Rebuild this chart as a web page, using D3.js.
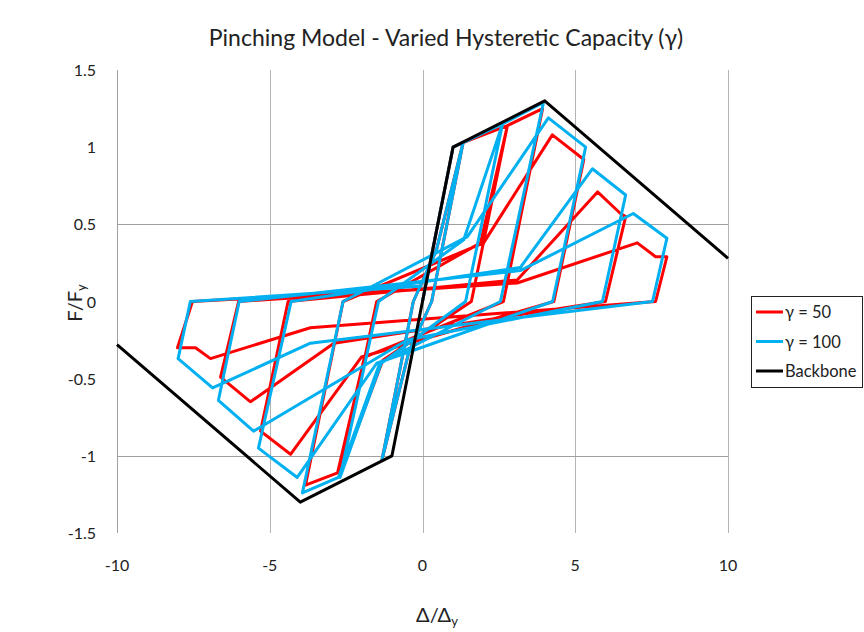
<!DOCTYPE html>
<html>
<head>
<meta charset="utf-8">
<script src="https://cdn.jsdelivr.net/npm/d3@7/dist/d3.min.js"></script>
<style>
body { margin: 0; background: #fff; }
text { font-family: Lato, "Open Sans", sans-serif; fill: #222; }
</style>
</head>
<body>
<svg width="864" height="632"></svg>
<script>
var xTicks = [-10, -5, 0, 5, 10];
var yTicks = [-1.5, -1, -0.5, 0, 0.5, 1, 1.5];
var xGrid = [-5, 0, 5, 10];
var yGrid = [0.5, -1];

var seriesNames = ["\u03b3 = 50", "\u03b3 = 100", "Backbone"];
var seriesColors = ["#ff0000", "#00b0f0", "#000000"];

var backboneDisp  = [-10, -4, -1, 1, 4, 10];
var backboneForce = [-0.28, -1.3, -1.0, 1.0, 1.3, 0.28];

// gamma = 50
var g50Disp  = [0, 1, 1.33, 0.3, -0.45, -1.33, -0.3, 0.45, 1.33, 2.78, 1.6,
                -1.3, -2.7, -1.5, 1.9, 2.78, 3.93, 2.65,
                -1.9, -2.78, -3.83, -2.6, 2.0, 4.25, 5.28, 4.3,
                -2.0, -4.32, -5.3, -4.4, 3.1, 5.73, 6.48, 6.65, 5.99,
                -2.9, -5.63, -6.61, -6.02, 3.1, 7.03, 7.63, 8.0, 7.63,
                -3.67, -6.94, -7.43, -8.02, -7.53, 0];
var g50Force = [0, 1, 1.03, 0, -0.33, -1.03, 0, 0.33, 1.03, 1.14, 0,
                -0.38, -1.12, 0, 0.38, 1.14, 1.25, 0,
                -0.36, -1.11, -1.19, 0, 0.38, 1.08, 0.92, 0,
                -0.36, -0.99, -0.84, 0, 0.14, 0.71, 0.57, 0.55, 0,
                -0.27, -0.65, -0.49, 0, 0.12, 0.38, 0.29, 0.29, 0,
                -0.17, -0.37, -0.30, -0.30, 0, 0.08];

// gamma = 100
var g100Disp  = [0, 1, 1.33, 0.3, -0.45, -1.33, -0.3, 0.45, 1.33, 2.62, 1.41,
                 -1.35, -2.7, -1.44, 1.35, 2.62, 3.96, 2.55,
                 -1.4, -2.75, -3.93, -2.6, 1.47, 4.12, 5.34, 4.26,
                 -1.5, -4.1, -5.37, -4.3, 3.2, 5.56, 6.65, 5.89,
                 -0.5, -5.53, -6.68, -6.0, 3.2, 6.9, 8.0, 7.53,
                 -3.67, -6.87, -8.0, -7.6, 0];
var g100Force = [0, 1, 1.03, 0, -0.33, -1.03, 0, 0.33, 1.03, 1.15, 0,
                 -0.40, -1.14, 0, 0.40, 1.15, 1.29, 0,
                 -0.40, -1.14, -1.24, 0, 0.42, 1.19, 1.0, 0,
                 -0.40, -1.14, -0.95, 0, 0.22, 0.86, 0.69, 0,
                 -0.25, -0.84, -0.64, 0, 0.2, 0.57, 0.41, 0,
                 -0.27, -0.56, -0.37, 0, 0.1];

var svg = d3.select("svg");
var x = d3.scaleLinear().domain([-10, 10]).range([117, 728]);
var y = d3.scaleLinear().domain([-1.5, 1.5]).range([533, 70]);

function pairs(xs, ys) {
    return xs.map(function(d, i) { return [d, ys[i]]; });
}

// gridlines
svg.selectAll(".vgrid")
    .data(xGrid)
    .enter().append("line")
    .attr("x1", function(d) { return Math.round(x(d)) + 0.5; })
    .attr("x2", function(d) { return Math.round(x(d)) + 0.5; })
    .attr("y1", y(1.5)).attr("y2", y(-1.5))
    .attr("stroke", "#b4b4b4");

svg.selectAll(".hgrid")
    .data(yGrid)
    .enter().append("line")
    .attr("x1", x(-10)).attr("x2", x(10))
    .attr("y1", function(d) { return Math.round(y(d)) + 0.5; })
    .attr("y2", function(d) { return Math.round(y(d)) + 0.5; })
    .attr("stroke", "#a0a0a0");

// y axis line
svg.append("line")
    .attr("x1", Math.round(x(-10)) + 0.5).attr("x2", Math.round(x(-10)) + 0.5)
    .attr("y1", y(1.5)).attr("y2", y(-1.5))
    .attr("stroke", "#a0a0a0");

svg.selectAll(".ylab")
    .data(yTicks)
    .enter().append("text")
    .attr("x", 96)
    .attr("y", function(d) { return y(d) + 6; })
    .attr("text-anchor", "end")
    .style("font-size", "16px")
    .text(function(d) { return d; });

svg.selectAll(".xlab")
    .data(xTicks)
    .enter().append("text")
    .attr("x", function(d) { return x(d); })
    .attr("y", 571)
    .attr("text-anchor", "middle")
    .style("font-size", "16px")
    .text(function(d) { return d; });

// series
var line = d3.line()
    .x(function(d) { return x(d[0]); })
    .y(function(d) { return y(d[1]); });

var allSeries = [pairs(g50Disp, g50Force), pairs(g100Disp, g100Force), pairs(backboneDisp, backboneForce)];

svg.selectAll(".series")
    .data(allSeries)
    .enter().append("path")
    .attr("d", line)
    .attr("fill", "none")
    .attr("stroke", function(d, i) { return seriesColors[i]; })
    .attr("stroke-width", 3)
    .attr("stroke-linejoin", "round");

// title
svg.append("text")
    .attr("x", 446).attr("y", 46)
    .attr("text-anchor", "middle")
    .style("font-size", "23px")
    .text("Pinching Model - Varied Hysteretic Capacity (\u03b3)");

// axis titles
var xt = svg.append("text")
    .attr("x", 437).attr("y", 622)
    .attr("text-anchor", "middle")
    .style("font-size", "20px");
xt.append("tspan").text("\u0394/\u0394");
xt.append("tspan").attr("dy", 4).style("font-size", "13px").text("y");

var yt = svg.append("text")
    .attr("transform", "translate(82,303) rotate(-90)")
    .attr("text-anchor", "middle")
    .style("font-size", "20px");
yt.append("tspan").text("F/F");
yt.append("tspan").attr("dy", 4).style("font-size", "13px").text("y");

// legend
var legend = svg.append("g");
legend.append("rect")
    .attr("x", 751.5).attr("y", 296.5)
    .attr("width", 111).attr("height", 91)
    .attr("fill", "#fff")
    .attr("stroke", "#222");

var items = legend.selectAll(".item")
    .data(seriesNames)
    .enter().append("g")
    .attr("transform", function(d, i) { return "translate(0," + (312 + i * 29.5) + ")"; });

items.append("line")
    .attr("x1", 756).attr("x2", 783)
    .attr("stroke", function(d, i) { return seriesColors[i]; })
    .attr("stroke-width", 3);

items.append("text")
    .attr("x", 785).attr("y", 6)
    .style("font-size", "16.5px")
    .text(function(d) { return d; });
</script>
</body>
</html>
